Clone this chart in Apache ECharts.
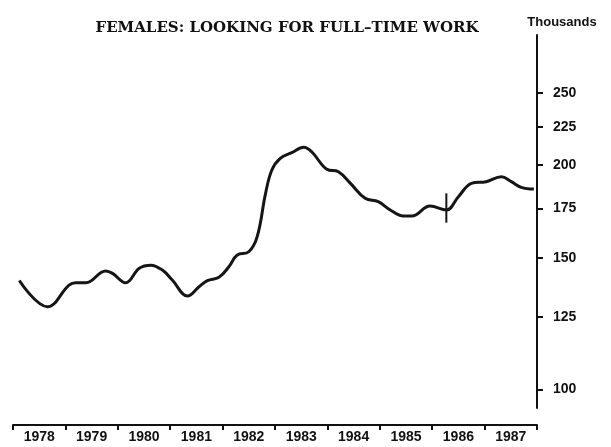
<!DOCTYPE html>
<html>
<head>
<meta charset="utf-8">
<script src="https://cdn.jsdelivr.net/npm/echarts@6/dist/echarts.min.js"></script>
<style>
  html, body { margin: 0; padding: 0; background: #fff; }
  #container1 { width: 611px; height: 447px; }
</style>
</head>
<body>
<div id="container1"></div>
<script>
// year labels on the bottom axis
var years = ['1978', '1979', '1980', '1981', '1982', '1983', '1984', '1985', '1986', '1987'];
// time (decimal year) and value (thousands)
var times = [1978.12, 1978.66, 1979.07, 1979.20, 1979.39, 1979.77, 1979.90, 1980.15, 1980.41, 1980.63,
	1980.85, 1981.04, 1981.33, 1981.55, 1981.71, 1981.93, 1982.12, 1982.28, 1982.50, 1982.66,
	1982.82, 1982.94, 1983.10, 1983.32, 1983.55, 1983.70, 1983.99, 1984.21, 1984.44, 1984.72,
	1984.97, 1985.20, 1985.45, 1985.61, 1985.96, 1986.27, 1986.50, 1986.75, 1987.03, 1987.32,
	1987.51, 1987.70, 1987.94];
var values = [140.0, 129.1, 138.0, 139.0, 139.0, 144.2, 143.1, 139.0, 145.4, 146.8,
	144.6, 140.2, 133.4, 137.3, 139.9, 141.4, 146.1, 151.5, 153.0, 160.3,
	183.3, 197.0, 204.2, 207.8, 211.3, 208.4, 197.4, 195.9, 189.0, 180.5,
	178.6, 174.1, 170.9, 170.9, 176.2, 174.1, 181.4, 189.0, 190.0, 192.9,
	190.0, 186.7, 185.7];
// the short vertical break marker on the curve
var markTime = [1986.27, 1986.27];
var markValues = [167.4, 183.3];
// y axis tick labels
var yTicks = [100, 125, 150, 175, 200, 225, 250];

var dom = document.getElementById("container1");
var myChart = echarts.init(dom);

var lineData = [];
for (var i = 0; i < times.length; i++) {
	lineData.push([times[i], values[i]]);
}
var markData = [];
for (var j = 0; j < markTime.length; j++) {
	markData.push([markTime[j], markValues[j]]);
}

var labelFont = {
	color : '#111',
	fontFamily : 'Liberation Sans',
	fontWeight : 'bold',
	fontSize : 14
};

myChart.setOption({
	backgroundColor : '#ffffff',
	animation : false,
	title : [ {
		text : 'FEMALES: LOOKING FOR FULL\u2013TIME WORK',
		left : 282,
		top : 16,
		textAlign : 'center',
		textStyle : {
			color : '#111',
			fontFamily : 'DejaVu Serif',
			fontWeight : 'bold',
			fontSize : 15
		}
	}, {
		text : 'Thousands',
		left : 557,
		top : 11,
		textAlign : 'center',
		textStyle : {
			color : '#111',
			fontFamily : 'Liberation Sans',
			fontWeight : 'bold',
			fontSize : 13
		}
	} ],
	grid : {
		left : 13,
		right : 74,
		top : 35,
		bottom : 39
	},
	xAxis : [ {
		type : 'value',
		min : 1978,
		max : 1988,
		show : false
	}, {
		type : 'category',
		data : years,
		position : 'bottom',
		offset : 17,
		boundaryGap : true,
		axisLine : { lineStyle : { color : '#111', width : 2 } },
		axisTick : { show : true, length : 5, lineStyle : { color : '#111', width : 2 } },
		axisLabel : Object.assign({ margin : 5 }, labelFont),
		splitLine : { show : false }
	} ],
	yAxis : {
		type : 'log',
		position : 'right',
		min : 94.4,
		max : 299,
		axisLine : { show : true, lineStyle : { color : '#111', width : 2 } },
		axisTick : {
			show : true,
			length : 6,
			customValues : yTicks,
			lineStyle : { color : '#111', width : 2 }
		},
		axisLabel : Object.assign({ margin : 16, customValues : yTicks }, labelFont),
		splitLine : { show : false }
	},
	series : [ {
		type : 'line',
		data : lineData,
		smooth : 0.4,
		symbol : 'none',
		lineStyle : { color : '#151515', width : 3 }
	}, {
		type : 'line',
		data : markData,
		symbol : 'none',
		lineStyle : { color : '#151515', width : 2 }
	} ]
});
</script>
</body>
</html>
